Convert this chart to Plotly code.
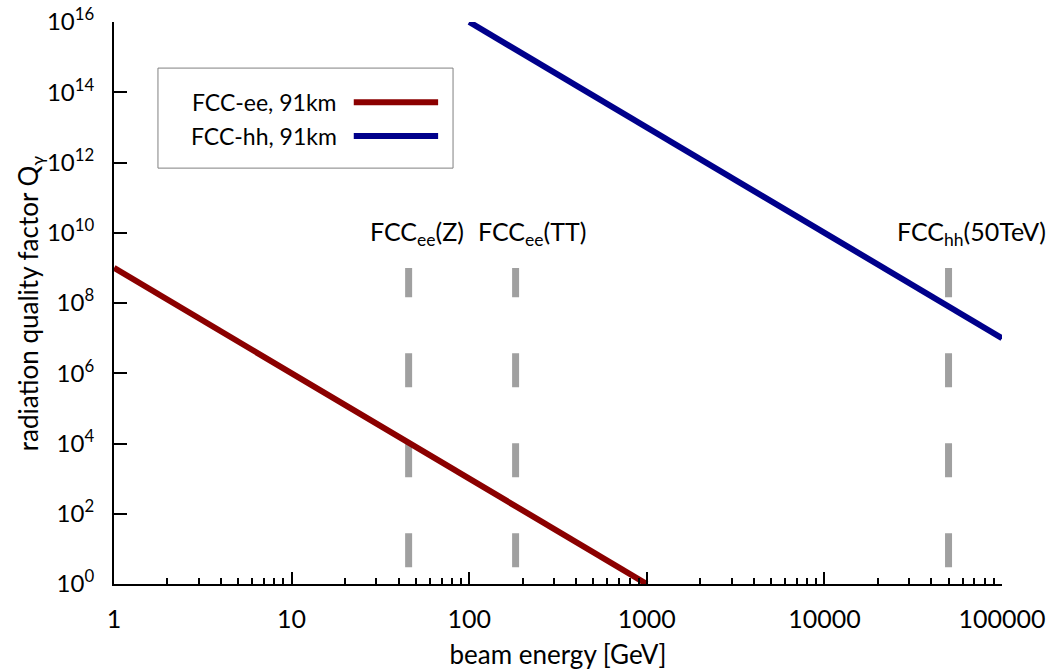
import math
import plotly.graph_objects as go

# ---- data ----
ee_energy = [1, 1000]            # GeV
ee_q = [1e9, 1e0]
hh_energy = [100, 100000]
hh_q = [1e16, 1e7]

marker_energy = [45.6, 182.5, 50000]
marker_names = ["FCC<sub>ee</sub>(Z)", "FCC<sub>ee</sub>(TT)", "FCC<sub>hh</sub>(50TeV)"]
marker_q_low = 3
marker_q_high = 1e9
marker_label_q = 1e10

x_tickvals = [1, 10, 100, 1000, 10000, 100000]
x_ticktext = ["1", "10", "100", "1000", "10000", "100000"]
y_tickvals = [1e0, 1e2, 1e4, 1e6, 1e8, 1e10, 1e12, 1e14, 1e16]
y_ticktext = ["10<sup>0</sup>", "10<sup>2</sup>", "10<sup>4</sup>", "10<sup>6</sup>",
              "10<sup>8</sup>", "10<sup>10</sup>", "10<sup>12</sup>", "10<sup>14</sup>",
              "10<sup>16</sup>"]

legend_names = ["FCC-ee, 91km", "FCC-hh, 91km"]
x_title = "beam energy [GeV]"
y_title = "radiation quality factor Q<sub>γ</sub>"
RED = "#8b0000"
BLUE = "#00008b"
GREY = "#a0a0a0"
FONT = "Lato"

fig = go.Figure()

for e in marker_energy:
    fig.add_trace(go.Scatter(x=[e, e], y=[marker_q_low, marker_q_high], mode="lines",
                             line=dict(color=GREY, width=7, dash="34px,56px"),
                             showlegend=False, hoverinfo="skip"))

fig.add_trace(go.Scatter(x=ee_energy, y=ee_q, mode="lines", name=legend_names[0],
                         line=dict(color=RED, width=6), showlegend=False))
fig.add_trace(go.Scatter(x=hh_energy, y=hh_q, mode="lines", name=legend_names[1],
                         line=dict(color=BLUE, width=6), showlegend=False))

shifts = [8, 16, 23]
for e, name, s in zip(marker_energy, marker_names, shifts):
    fig.add_annotation(x=math.log10(e), y=math.log10(marker_label_q), text=name,
                       showarrow=False, xshift=s, yanchor="middle",
                       font=dict(family=FONT, size=25, color="black"))

# manual legend (symbol to the right of text, as in the reference)
fig.add_shape(type="rect", xref="paper", yref="paper", x0=0.0495, x1=0.3818,
              y0=0.740, y1=0.918, line=dict(color="#808080", width=1), fillcolor="white",
              layer="below")
leg_y = [0.857, 0.797]
for name, col, yy in zip(legend_names, [RED, BLUE], leg_y):
    fig.add_annotation(xref="paper", yref="paper", x=0.2530, y=yy, text=name,
                       xanchor="right", yanchor="middle", showarrow=False,
                       font=dict(family=FONT, size=23, color="black"))
    fig.add_shape(type="line", xref="paper", yref="paper", x0=0.270, x1=0.365,
                  y0=yy, y1=yy, line=dict(color=col, width=6))

# y-axis title placed as rotated text
fig.add_annotation(xref="paper", yref="paper", x=-0.0955, y=0.5, text=y_title,
                   textangle=-90, xanchor="center", yanchor="middle", showarrow=False,
                   font=dict(family=FONT, size=26, color="black"))

fig.update_layout(
    width=1051, height=672, autosize=False,
    margin=dict(l=114, r=49, t=22, b=88, autoexpand=False),
    paper_bgcolor="white", plot_bgcolor="white",
    font=dict(family=FONT, size=25, color="black"),
    showlegend=False,
)
fig.update_xaxes(type="log", range=[0, 5], showgrid=False, zeroline=False,
                 automargin=False,
                 showline=True, linecolor="black", linewidth=2,
                 ticks="inside", ticklen=12, tickwidth=2, tickcolor="black",
                 tickmode="array", tickvals=x_tickvals, ticktext=x_ticktext,
                 tickfont=dict(family=FONT, size=25),
                 ticklabelstandoff=12,
                 minor=dict(ticks="inside", ticklen=6, tickwidth=2, tickcolor="black",
                            dtick="D1", showgrid=False),
                 title=dict(text=x_title, standoff=14,
                            font=dict(family=FONT, size=26)))
fig.update_yaxes(type="log", range=[0, 16], showgrid=False, zeroline=False,
                 automargin=False,
                 showline=True, linecolor="black", linewidth=2,
                 ticks="inside", ticklen=13, tickwidth=2, tickcolor="black",
                 tickmode="array", tickvals=y_tickvals, ticktext=y_ticktext,
                 tickfont=dict(family=FONT, size=24),
                 ticklabelstandoff=13)

fig.write_html("out.html", config={"displayModeBar": False},
               post_script="document.body.style.margin='0px';")
